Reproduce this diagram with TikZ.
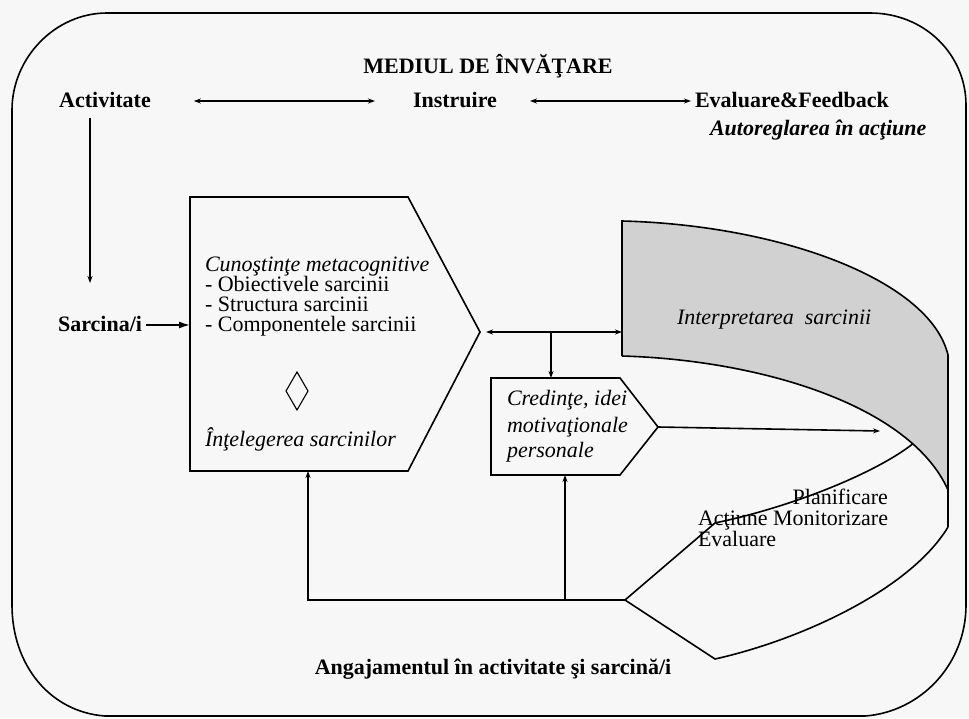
\documentclass[tikz,border=0pt]{standalone}
\usepackage{fontspec}
\setmainfont{Liberation Serif}
\usetikzlibrary{arrows.meta,shapes.geometric}
\begin{document}
\begin{tikzpicture}[x=1pt,y=-1pt,
  line width=1.6pt,
  every node/.style={inner sep=0pt, outer sep=0pt},
  hb/.style={font=\fontsize{22}{24}\selectfont\bfseries},
  hbi/.style={font=\fontsize{22}{24}\selectfont\bfseries\itshape},
  tx/.style={font=\fontsize{22}{24}\selectfont},
  ti/.style={font=\fontsize{22}{24}\selectfont\itshape},
  tip/.style={-{Stealth[length=7pt,width=5pt]}},
  dtip/.style={{Stealth[length=7pt,width=5pt]}-{Stealth[length=7pt,width=5pt]}},
  band/.style={fill=black!18},
]
% page
\fill[black!3] (0,0) rectangle (969,718);
\useasboundingbox (0,0) rectangle (969,718);

% rounded frame of the learning environment
\draw (12,110) -- (12,605) .. controls (12,665) and (50,712) .. (105,716)
  -- (865,716) .. controls (920,712) and (966,665) .. (966,605)
  -- (966,105) .. controls (966,55) and (925,13) .. (870,13)
  -- (107,13) .. controls (55,13) and (12,58) .. (12,110) -- cycle;

% top row
\node[hb, anchor=base] (title) at (488,73) {MEDIUL DE ÎNVĂŢARE};
\node[hb, anchor=base] (act) at (105,107) {Activitate};
\node[hb, anchor=base] (instr) at (455,107) {Instruire};
\node[hb, anchor=base west] (eval) at (695,107) {Evaluare\&Feedback};
\node[hbi, anchor=base west] (auto) at (710,135) {Autoreglarea în acţiune};
\draw[dtip] ([shift={(43pt,6pt)}]act.base east) -- ([shift={(-38pt,6pt)}]instr.base west);
\draw[dtip] ([shift={(33pt,6pt)}]instr.base east) -- ([shift={(-4pt,6pt)}]eval.base west);

% task
\node[hb, anchor=base] (sarc) at (100,331) {Sarcina/i};
\draw[tip] ([shift={(-15pt,-11pt)}]act.base) -- ([shift={(-10pt,48pt)}]sarc.base);

% metacognitive knowledge box
\coordinate (kTL) at (190,197);
\coordinate (kTR) at (408,197);
\coordinate (kTip) at (480,332);
\coordinate (kBR) at (408,471);
\coordinate (kBL) at (190,471);
\coordinate (kW) at (190,325);
\coordinate (kFoot) at (308,471);
\draw (kTL) -- (kTR) -- (kTip) -- (kBR) -- (kBL) -- cycle;
\draw[-{Latex[length=11pt,width=7pt]}] ([shift={(4pt,6pt)}]sarc.base east) -- (kW);
\node[ti, anchor=base west] (k1) at (205,271) {Cunoştinţe metacognitive};
\node[tx, anchor=base west] (k2) at (205,291) {- Obiectivele sarcinii};
\node[tx, anchor=base west] (k3) at (205,311) {- Structura sarcinii};
\node[tx, anchor=base west] (k4) at (205,331) {- Componentele sarcinii};
\node[draw, diamond, line width=1.1pt, minimum width=22pt, minimum height=38pt] (dia) at (297,391) {};
\node[ti, anchor=base west] (k5) at (205,446) {Înţelegerea sarcinilor};

% task interpretation band
\coordinate (gTL) at (622,221);
\coordinate (gBL) at (622,356);
\coordinate (gTR) at (948,355);
\coordinate (gBR) at (948,490);
\coordinate (rB) at (948,527);
\coordinate (gW) at (622,332);
\fill[band] (gTL) .. controls (780,225) and (930,280) .. (gTR) -- (gBR)
  .. controls (910,405) and (760,360) .. (gBL) -- cycle;
\draw (gBL) -- (gTL) .. controls (780,225) and (930,280) .. (gTR) -- (rB);
\draw (gBL) .. controls (760,360) and (910,405) .. coordinate[pos=0.8] (gMeet) (gBR);
\node[ti, anchor=base west] (interp) at (677,324) {Interpretarea\ \ sarcinii};

% beliefs box
\coordinate (cTL) at (491,378);
\coordinate (cTR) at (620,378);
\coordinate (cTip) at (658,427);
\coordinate (cBR) at (620,475);
\coordinate (cBL) at (491,475);
\coordinate (cTop) at (551,378);
\coordinate (cFoot) at (565,475);
\coordinate (cOut) at (880,431);
\draw (cTL) -- (cTR) -- (cTip) -- (cBR) -- (cBL) -- cycle;
\node[ti, anchor=base west] (c1) at (507,405) {Credinţe, idei};
\node[ti, anchor=base west] (c2) at (507,432) {motivaţionale};
\node[ti, anchor=base west] (c3) at (507,457) {personale};

% connectors in the middle
\coordinate (j1) at (551,332);
\draw[dtip] ([xshift=6pt]kTip) -- (gW);
\draw[tip] (j1) -- (cTop);
\draw[tip] (cTip) -- (cOut);

% self-regulation shape
\coordinate (iL) at (625,600);
\draw (gMeet) .. controls (880,470) and (800,505) .. (715,523) -- (iL)
  -- (715,659) .. controls (800,640) and (910,590) .. (rB);
\node[anchor=base west, tx] (steps) at (698,526) {\begin{tabular}{@{}l@{}}\hfill Planificare\\[-3pt] Acţiune Monitorizare\\[-3pt] Evaluare\end{tabular}};

% feedback lines at the bottom
\draw[tip] (iL) -| (kFoot);
\draw[tip] (iL -| cFoot) -- (cFoot);

\node[hb, anchor=base] (eng) at (493,674) {Angajamentul în activitate şi sarcină/i};
\end{tikzpicture}
\end{document}
